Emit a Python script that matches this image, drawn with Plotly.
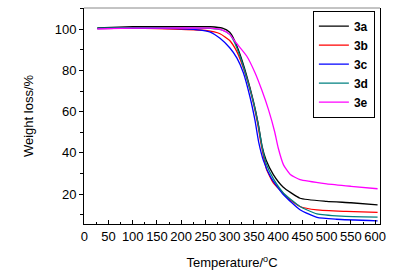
import plotly.graph_objects as go

# Temperature (°C) and weight (%)
t_3a = [27, 100, 200, 260, 285, 300, 308, 321, 335, 349, 359, 367, 375, 390, 410, 445, 500, 550, 605]
w_3a = [100.7, 101.2, 101.3, 101.2, 100.5, 98.5, 95.5, 88, 77.5, 65, 54, 43, 36.5, 29.5, 23.5, 18, 16.5, 15.8, 14.8]

t_3b = [27, 100, 200, 250, 280, 300, 315, 330, 345, 357, 365, 376, 390, 404, 420, 445, 480, 540, 605]
w_3b = [100.3, 100.5, 100.0, 99.4, 97.8, 94.5, 89, 80, 68, 55, 44, 32, 25.5, 22, 18, 14, 12.3, 11.6, 11.1]

t_3c = [27, 100, 200, 240, 260, 280, 300, 315, 328, 342, 352, 360, 370, 385, 411, 445, 480, 520, 605]
w_3c = [100.3, 100.5, 100.2, 99.6, 98.6, 95.6, 91, 86, 79, 67, 56, 45, 36, 28, 19.7, 12.4, 8.7, 7.8, 7.0]

t_3d = [27, 100, 200, 260, 285, 300, 308, 321, 335, 349, 359, 367, 375, 390, 411, 445, 480, 530, 605]
w_3d = [100.5, 100.8, 100.7, 100.4, 99.5, 97.5, 94.5, 87, 76.5, 64.5, 53.5, 42.5, 35, 27.5, 20.5, 14, 10.4, 9.3, 8.8]

t_3e = [27, 100, 200, 260, 285, 300, 314, 335, 352, 366, 380, 393, 400, 411, 425, 445, 500, 550, 605]
w_3e = [100.2, 100.5, 100.6, 100.5, 99.6, 97.5, 93.2, 87, 79, 70.6, 61, 50, 42.5, 34.2, 29.5, 27, 25, 23.8, 22.6]

series = [
    ("3a", t_3a, w_3a, "#000000"),
    ("3b", t_3b, w_3b, "#ff0000"),
    ("3c", t_3c, w_3c, "#0000ff"),
    ("3d", t_3d, w_3d, "#008080"),
    ("3e", t_3e, w_3e, "#ff00ff"),
]

x_tick_step = 50
y_ticks = [20, 40, 60, 80, 100]

fig = go.Figure()
for name, t, w, c in series:
    fig.add_trace(go.Scatter(x=t, y=w, mode="lines", name=name,
                             line=dict(color=c, width=1.3, shape="spline", smoothing=0.5)))

font = "Liberation Sans, Arial, sans-serif"
fig.update_layout(
    width=407, height=280,
    margin=dict(l=84, r=27, t=8, b=56),
    plot_bgcolor="white", paper_bgcolor="white",
    font=dict(family=font, size=13, color="black"),
    showlegend=True,
    legend=dict(x=0.878, y=0.74, xanchor="center", yanchor="middle",
                bordercolor="black", borderwidth=1, bgcolor="white",
                font=dict(family=font, size=12, color="black", weight="bold"),
                tracegroupgap=0, itemwidth=30),
    xaxis=dict(range=[-0.5, 610], tickmode="linear", tick0=0, dtick=x_tick_step,
               ticks="inside", ticklen=4,
               tickcolor="black", showline=True, linecolor="black", linewidth=1,
               showgrid=False, zeroline=False,
               minor=dict(dtick=25, tick0=0, ticks="inside", ticklen=2, tickcolor="black"),
               title=dict(text="Temperature/<sup>o</sup>C", standoff=15,
                          font=dict(size=13)),
               tickfont=dict(size=13)),
    yaxis=dict(range=[5.5, 110.3], tickvals=y_ticks, ticks="outside", ticklen=4,
               tickcolor="black", showline=True, linecolor="black", linewidth=1,
               mirror=True, showgrid=False, zeroline=False,
               minor=dict(dtick=10, tick0=0, ticks="outside", ticklen=3, tickcolor="black"),
               title=dict(text="Weight loss/%", standoff=18, font=dict(size=13)),
               tickfont=dict(size=13)),
)
fig.add_shape(type="line", xref="paper", yref="paper", x0=0, x1=1, y0=1, y1=1,
              line=dict(color="#888888", width=1))

fig.write_html("out.html", config={"displayModeBar": False},
               post_script="document.body.style.margin='0';")
